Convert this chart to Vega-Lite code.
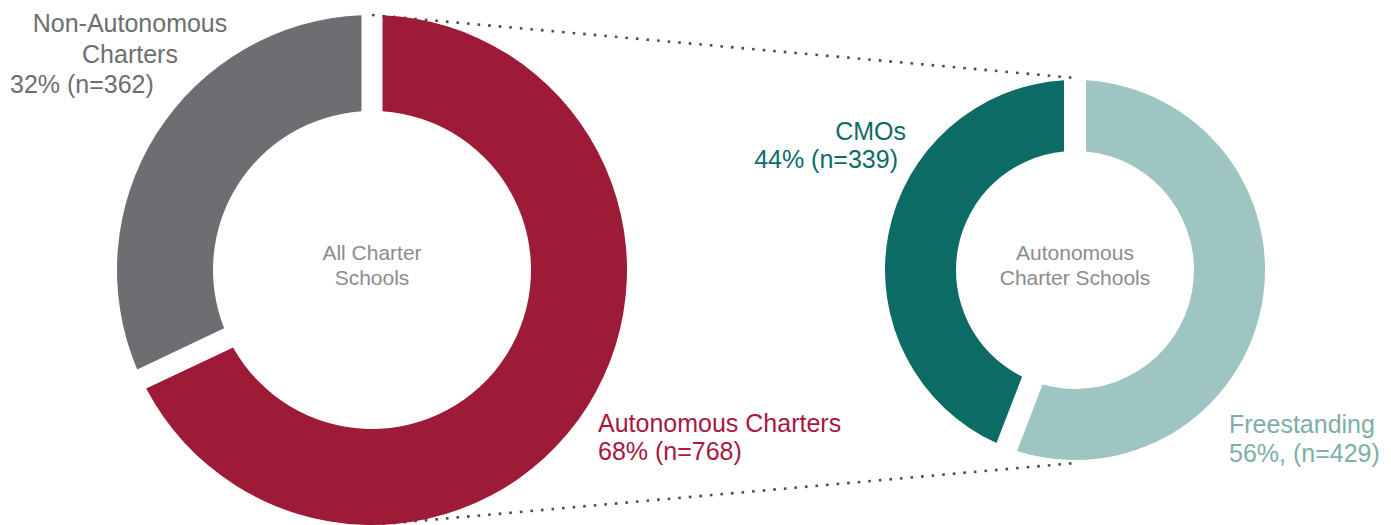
{
  "$schema": "https://vega.github.io/schema/vega-lite/v6.json",
  "width": 1391,
  "height": 510,
  "autosize": {"type": "none"},
  "padding": {"top": 15, "left": 0, "right": 0, "bottom": 0},
  "background": "white",
  "config": {"view": {"stroke": null}, "font": "Liberation Sans"},
  "datasets": {
    "slices": [
      {"group": "All Charter Schools", "segment": "Autonomous Charters", "n": 768, "name": "Autonomous Charters", "stat": "68% (n=768)"},
      {"group": "All Charter Schools", "segment": "Non-Autonomous Charters", "n": 362, "name": "Non-Autonomous\nCharters", "stat": "32% (n=362)"},
      {"group": "Autonomous Charter Schools", "segment": "Freestanding", "n": 429, "name": "Freestanding", "stat": "56%, (n=429)"},
      {"group": "Autonomous Charter Schools", "segment": "CMOs", "n": 339, "name": "CMOs", "stat": "44% (n=339)"}
    ],
    "groups": [
      {"group": "All Charter Schools", "title": "All Charter\nSchools"},
      {"group": "Autonomous Charter Schools", "title": "Autonomous\nCharter Schools"}
    ]
  },
  "data": {"name": "slices"},
  "layer": [
    {
      "data": {"values": [{}]},
      "mark": {"type": "rule", "color": "#4D4D4D", "strokeWidth": 2.6, "strokeDash": [2.6, 8]},
      "encoding": {
        "x": {"datum": "All Charter Schools", "type": "nominal", "scale": {"type": "point", "domain": ["All Charter Schools", "Autonomous Charter Schools"], "range": [372, 1075], "padding": 0}, "axis": null},
        "x2": {"datum": "Autonomous Charter Schools"},
        "y": {"datum": 1, "type": "quantitative", "scale": {"domain": [-1, 1]}, "axis": null},
        "y2": {"datum": 0.753}
      }
    },
    {
      "data": {"values": [{}]},
      "mark": {"type": "rule", "color": "#4D4D4D", "strokeWidth": 2.6, "strokeDash": [2.6, 8]},
      "encoding": {
        "x": {"datum": "All Charter Schools", "type": "nominal"},
        "x2": {"datum": "Autonomous Charter Schools"},
        "y": {"datum": -1, "type": "quantitative"},
        "y2": {"datum": -0.757}
      }
    },
    {
      "transform": [{"filter": "datum.group === 'All Charter Schools'"}],
      "mark": {"type": "arc", "radius": 255, "radius2": 159, "padAngle": 0.07},
      "encoding": {
        "x": {"field": "group", "type": "nominal"},
        "y": {"datum": 0, "type": "quantitative"},
        "theta": {"field": "n", "type": "quantitative", "stack": true},
        "order": {"field": "n", "sort": "descending"},
        "color": {"field": "segment", "type": "nominal", "scale": {"domain": ["Autonomous Charters", "Non-Autonomous Charters", "Freestanding", "CMOs"], "range": ["#9D1B36", "#6D6E71", "#9EC5C1", "#0D6B66"]}, "legend": null}
      }
    },
    {
      "transform": [{"filter": "datum.group === 'Autonomous Charter Schools'"}],
      "mark": {"type": "arc", "radius": 190, "radius2": 119, "padAngle": 0.098},
      "encoding": {
        "x": {"field": "group", "type": "nominal"},
        "y": {"datum": 0, "type": "quantitative"},
        "theta": {"field": "n", "type": "quantitative", "stack": true},
        "order": {"field": "n", "sort": "descending"},
        "color": {"field": "segment", "type": "nominal", "legend": null}
      }
    },
    {
      "data": {"name": "groups"},
      "mark": {"type": "text", "align": "center", "baseline": "middle", "fontSize": 21, "lineHeight": 25, "lineBreak": "\n", "color": "#8C8C8C", "dy": -16},
      "encoding": {
        "x": {"field": "group", "type": "nominal"},
        "y": {"datum": 0, "type": "quantitative"},
        "text": {"field": "title"}
      }
    },
    {
      "transform": [{"filter": "datum.segment === 'Autonomous Charters'"}],
      "mark": {"type": "text", "align": "left", "baseline": "alphabetic", "fontSize": 25, "color": "#A8173F", "dx": 226, "dy": 162},
      "encoding": {"x": {"field": "group", "type": "nominal"}, "y": {"datum": 0, "type": "quantitative"}, "text": {"field": "name"}}
    },
    {
      "transform": [{"filter": "datum.segment === 'Autonomous Charters'"}],
      "mark": {"type": "text", "align": "left", "baseline": "alphabetic", "fontSize": 25, "color": "#A8173F", "dx": 226, "dy": 190},
      "encoding": {"x": {"field": "group", "type": "nominal"}, "y": {"datum": 0, "type": "quantitative"}, "text": {"field": "stat"}}
    },
    {
      "transform": [{"filter": "datum.segment === 'Non-Autonomous Charters'"}],
      "mark": {"type": "text", "align": "center", "baseline": "alphabetic", "fontSize": 25, "lineHeight": 31, "lineBreak": "\n", "color": "#6D6E71", "dx": -242, "dy": -238},
      "encoding": {"x": {"field": "group", "type": "nominal"}, "y": {"datum": 0, "type": "quantitative"}, "text": {"field": "name"}}
    },
    {
      "transform": [{"filter": "datum.segment === 'Non-Autonomous Charters'"}],
      "mark": {"type": "text", "align": "left", "baseline": "alphabetic", "fontSize": 25, "color": "#6D6E71", "dx": -362, "dy": -177},
      "encoding": {"x": {"field": "group", "type": "nominal"}, "y": {"datum": 0, "type": "quantitative"}, "text": {"field": "stat"}}
    },
    {
      "transform": [{"filter": "datum.segment === 'CMOs'"}],
      "mark": {"type": "text", "align": "right", "baseline": "alphabetic", "fontSize": 25, "color": "#0D6B66", "dx": -169, "dy": -130},
      "encoding": {"x": {"field": "group", "type": "nominal"}, "y": {"datum": 0, "type": "quantitative"}, "text": {"field": "name"}}
    },
    {
      "transform": [{"filter": "datum.segment === 'CMOs'"}],
      "mark": {"type": "text", "align": "right", "baseline": "alphabetic", "fontSize": 25, "color": "#0D6B66", "dx": -177, "dy": -102},
      "encoding": {"x": {"field": "group", "type": "nominal"}, "y": {"datum": 0, "type": "quantitative"}, "text": {"field": "stat"}}
    },
    {
      "transform": [{"filter": "datum.segment === 'Freestanding'"}],
      "mark": {"type": "text", "align": "left", "baseline": "alphabetic", "fontSize": 25, "color": "#7DAFA9", "dx": 154, "dy": 163},
      "encoding": {"x": {"field": "group", "type": "nominal"}, "y": {"datum": 0, "type": "quantitative"}, "text": {"field": "name"}}
    },
    {
      "transform": [{"filter": "datum.segment === 'Freestanding'"}],
      "mark": {"type": "text", "align": "left", "baseline": "alphabetic", "fontSize": 25, "color": "#7DAFA9", "dx": 154, "dy": 192},
      "encoding": {"x": {"field": "group", "type": "nominal"}, "y": {"datum": 0, "type": "quantitative"}, "text": {"field": "stat"}}
    }
  ],
  "resolve": {"scale": {"theta": "independent"}}
}
